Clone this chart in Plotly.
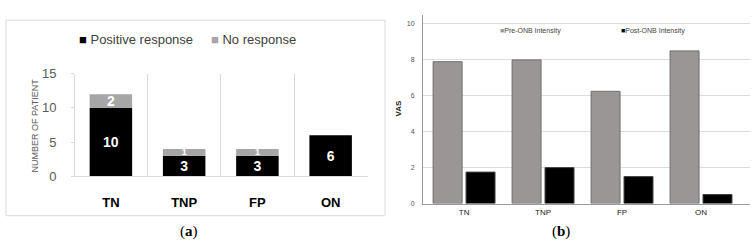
import plotly.graph_objects as go

# Panel (a)
cats_a = ["TN", "TNP", "FP", "ON"]
positive = [10, 3, 3, 6]
no_resp = [2, 1, 1, 0]

# Panel (b)
cats_b = ["TN", "TNP", "FP", "ON"]
pre_onb = [7.9, 8.0, 6.25, 8.5]
post_onb = [1.75, 2.0, 1.5, 0.5]

W, H = 756, 251
def px(x): return x / W
def py(y): return 1 - y / H

fig = go.Figure()
xa = list(range(len(cats_a)))
bar_font = dict(color="white", size=14, family="Liberation Sans", weight="bold")
# thin segments get a smaller label so it stays inside its segment
gray_sizes = [14 if v >= 2 else 9 for v in no_resp]
fig.add_trace(go.Bar(x=xa, y=positive, name="Positive response", marker_color="#000000",
                     marker_line_width=0, width=0.58,
                     text=[str(v) if v else "" for v in positive], textposition="inside",
                     insidetextanchor="middle", constraintext="none", textangle=0,
                     textfont=bar_font, xaxis="x", yaxis="y", showlegend=False))
fig.add_trace(go.Bar(x=xa, y=no_resp, base=positive, name="No response", marker_color="#a6a6a6",
                     marker_line_width=0, width=0.58,
                     text=[str(v) if v else "" for v in no_resp], textposition="inside",
                     insidetextanchor="middle", constraintext="none", textangle=0,
                     textfont=dict(bar_font, size=gray_sizes), xaxis="x", yaxis="y", showlegend=False))

xb = list(range(len(cats_b)))
fig.add_trace(go.Bar(x=xb, y=pre_onb, name="Pre-ONB Intensity", marker_color="#9a9696",
                     marker_line=dict(color="#6e6e6e", width=1), width=0.367, offset=-0.392,
                     xaxis="x2", yaxis="y2", showlegend=False))
fig.add_trace(go.Bar(x=xb, y=post_onb, name="Post-ONB Intensity", marker_color="#000000",
                     marker_line=dict(color="#444444", width=1), width=0.367, offset=0.025,
                     xaxis="x2", yaxis="y2", showlegend=False))

fig.update_layout(
    width=W, height=H, margin=dict(l=0, r=0, t=0, b=0),
    paper_bgcolor="white", plot_bgcolor="white", barmode="overlay",
    font=dict(family="Liberation Sans", color="#595959"),
    xaxis=dict(domain=[px(75), px(368)], range=[-0.49, 3.51],
               tickvals=xa, ticktext=cats_a, showgrid=False,
               tickfont=dict(size=13, color="#000000", family="Liberation Sans", weight="bold"),
               ticks="", ticklabelstandoff=14,
               showline=True, linecolor="#d9d9d9", linewidth=1, zeroline=False,
               minor=dict(tick0=0.5, dtick=1, showgrid=True, gridcolor="#d9d9d9", gridwidth=1)),
    yaxis=dict(domain=[py(180), py(71)], range=[0, 15], tickvals=[0, 5, 10, 15],
               showgrid=False, zeroline=False, showline=True, linecolor="#d9d9d9",
               ticks="outside", ticklen=3, tickcolor="#d9d9d9",
               tickfont=dict(size=13, color="#595959"), ticklabelstandoff=12),
    xaxis2=dict(domain=[px(423), px(750)], range=[-0.52, 3.62],
                tickvals=xb, ticktext=cats_b, showgrid=False, ticks="",
                tickfont=dict(size=8, color="#222222"), ticklabelstandoff=1,
                showline=True, linecolor="#9a9a9a", linewidth=1, zeroline=False, anchor="y2"),
    yaxis2=dict(domain=[py(209), py(8.5)], range=[0, 10.5], tickvals=[0, 2, 4, 6, 8, 10],
                showgrid=True, gridcolor="#dcdcdc", gridwidth=1, zeroline=False,
                showline=True, linecolor="#9a9a9a", linewidth=1, ticks="",
                tickfont=dict(size=7, color="#555555"), ticklabelstandoff=6, anchor="x2"),
)

fig.add_shape(type="rect", xref="paper", yref="paper",
              x0=px(6), x1=px(385), y0=py(222), y1=py(14),
              line=dict(color="#d9d9d9", width=1), fillcolor="rgba(0,0,0,0)", layer="below")

ann = []
ann.append(dict(text="NUMBER OF PATIENT", x=px(35), y=py(126), textangle=-90,
                font=dict(size=9, color="#595959")))
ann.append(dict(text="<span style='color:#000000'>■</span> Positive response",
                x=px(77), y=py(35), xanchor="left", font=dict(size=13, color="#404040")))
ann.append(dict(text="<span style='color:#a6a6a6'>■</span> No response",
                x=px(209), y=py(35), xanchor="left", font=dict(size=13, color="#404040")))
ann.append(dict(text="<b>VAS</b>", x=px(399), y=py(108), textangle=-90,
                font=dict(size=8, color="#222222")))
ann.append(dict(text="<span style='color:#9a9696'>■</span>Pre-ONB Intensity",
                x=px(498), y=py(26), xanchor="left", font=dict(size=7, color="#444444")))
ann.append(dict(text="<span style='color:#000000'>■</span>Post-ONB Intensity",
                x=px(619), y=py(26), xanchor="left", font=dict(size=7, color="#444444")))
ann.append(dict(text="(<b>a</b>)", x=px(189), y=py(239),
                font=dict(size=15, color="#000000", family="Liberation Serif")))
ann.append(dict(text="(<b>b</b>)", x=px(561), y=py(239),
                font=dict(size=15, color="#000000", family="Liberation Serif")))
for a in ann:
    a.update(xref="paper", yref="paper", showarrow=False, yanchor="middle")
    a.setdefault("xanchor", "center")
    fig.add_annotation(**a)

fig.write_html("out.html")
